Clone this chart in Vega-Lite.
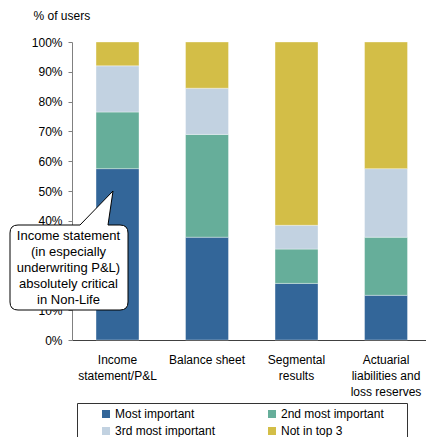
{
  "$schema": "https://vega.github.io/schema/vega-lite/v6.json",
  "width": 354,
  "height": 298,
  "autosize": "none",
  "padding": {"left": 72, "top": 42, "right": 0, "bottom": 97},
  "background": "white",
  "config": {
    "view": {"stroke": null},
    "font": "Liberation Sans",
    "axis": {"labelFont": "Liberation Sans", "titleFont": "Liberation Sans", "labelColor": "#000000", "titleColor": "#000000"},
    "legend": {"labelFont": "Liberation Sans", "titleFont": "Liberation Sans"}
  },
  "datasets": {
    "shares": [
      {"category": "Income statement/P&L", "importance": "Most important", "level": 1, "share": 57.5},
      {"category": "Income statement/P&L", "importance": "2nd most important", "level": 2, "share": 19.0},
      {"category": "Income statement/P&L", "importance": "3rd most important", "level": 3, "share": 15.5},
      {"category": "Income statement/P&L", "importance": "Not in top 3", "level": 4, "share": 8.0},
      {"category": "Balance sheet", "importance": "Most important", "level": 1, "share": 34.5},
      {"category": "Balance sheet", "importance": "2nd most important", "level": 2, "share": 34.5},
      {"category": "Balance sheet", "importance": "3rd most important", "level": 3, "share": 15.5},
      {"category": "Balance sheet", "importance": "Not in top 3", "level": 4, "share": 15.5},
      {"category": "Segmental results", "importance": "Most important", "level": 1, "share": 19.0},
      {"category": "Segmental results", "importance": "2nd most important", "level": 2, "share": 11.5},
      {"category": "Segmental results", "importance": "3rd most important", "level": 3, "share": 8.0},
      {"category": "Segmental results", "importance": "Not in top 3", "level": 4, "share": 61.5},
      {"category": "Actuarial liabilities and loss reserves", "importance": "Most important", "level": 1, "share": 15.0},
      {"category": "Actuarial liabilities and loss reserves", "importance": "2nd most important", "level": 2, "share": 19.5},
      {"category": "Actuarial liabilities and loss reserves", "importance": "3rd most important", "level": 3, "share": 23.0},
      {"category": "Actuarial liabilities and loss reserves", "importance": "Not in top 3", "level": 4, "share": 42.5}
    ],
    "callout": [
      {"category": "Income statement/P&L", "share": 50, "note": "Income statement\n(in especially\nunderwriting P&L)\nabsolutely critical\nin Non-Life"}
    ]
  },
  "encoding": {
    "x": {
      "field": "category",
      "type": "nominal",
      "sort": ["Income statement/P&L", "Balance sheet", "Segmental results", "Actuarial liabilities and loss reserves"],
      "scale": {"paddingInner": 0.52, "paddingOuter": 0.2375, "align": 0.565},
      "axis": {
        "title": null,
        "labelAngle": 0,
        "ticks": false,
        "tickSize": 0,
        "labelPadding": 14,
        "labelBaseline": "top",
        "labelFontSize": 12,
        "labelLineHeight": 16,
        "labelLimit": 200,
        "labelOverlap": false,
        "domainColor": "#404040",
        "domainWidth": 1,
        "labelExpr": "datum.value == 'Income statement/P&L' ? ['Income', 'statement/P&L'] : datum.value == 'Segmental results' ? ['Segmental', 'results'] : datum.value == 'Actuarial liabilities and loss reserves' ? ['Actuarial', 'liabilities and', 'loss reserves'] : datum.value"
      }
    },
    "y": {
      "field": "share",
      "type": "quantitative",
      "scale": {"domain": [0, 100], "nice": false},
      "axis": {
        "title": "% of users",
        "titleAngle": 0,
        "titleAlign": "left",
        "titleBaseline": "middle",
        "titleX": -39,
        "titleY": -27,
        "titleFontSize": 12,
        "titleFontWeight": "normal",
        "values": [0, 10, 20, 30, 40, 50, 60, 70, 80, 90, 100],
        "labelExpr": "datum.value + '%'",
        "labelOverlap": false,
        "labelFontSize": 12,
        "labelPadding": 6,
        "tickSize": 4,
        "tickColor": "#808080",
        "domainColor": "#808080",
        "grid": false
      }
    }
  },
  "layer": [
    {
      "data": {"name": "shares"},
      "mark": {"type": "bar", "stroke": "white", "strokeWidth": 0.5, "strokeOpacity": 0.7},
      "encoding": {
        "color": {
          "field": "importance",
          "type": "nominal",
          "scale": {
            "domain": ["Most important", "2nd most important", "3rd most important", "Not in top 3"],
            "range": ["#336699", "#66AE9A", "#C2D2E1", "#D3BE47"]
          },
          "legend": {
            "title": "\u00a0",
            "titleOrient": "right",
            "titleAngle": 0,
            "titlePadding": 18,
            "titleFontSize": 12,
            "titleFontWeight": "normal",
            "orient": "none",
            "legendX": 5,
            "legendY": 361,
            "columns": 2,
            "direction": "horizontal",
            "symbolType": "square",
            "symbolSize": 64,
            "symbolStrokeWidth": 0,
            "symbolOffset": 18,
            "labelFontSize": 12,
            "labelOffset": 3,
            "labelLimit": 300,
            "columnPadding": 32,
            "rowPadding": 5,
            "padding": 5,
            "strokeColor": "#333333",
            "fillColor": "white"
          }
        },
        "order": {"field": "level", "type": "quantitative"}
      }
    },
    {
      "data": {"name": "callout"},
      "mark": {
        "type": "point",
        "shape": "M -4.5 0 L -9.5 34 L 2.5 34 Q 10.5 34 10.5 42 L 10.5 111 Q 10.5 119 2.5 119 L -99.5 119 Q -107.5 119 -107.5 111 L -107.5 42 Q -107.5 34 -99.5 34 L -37.5 34 Z",
        "size": 4,
        "filled": true,
        "fill": "white",
        "stroke": "black",
        "strokeWidth": 1,
        "opacity": 1,
        "strokeJoin": "round"
      }
    },
    {
      "data": {"name": "callout"},
      "mark": {
        "type": "text",
        "font": "Liberation Sans",
        "fontSize": 13,
        "lineHeight": 16,
        "lineBreak": "\n",
        "align": "center",
        "baseline": "middle",
        "dx": -49,
        "dy": 45,
        "color": "black"
      },
      "encoding": {
        "text": {"field": "note"}
      }
    }
  ]
}
